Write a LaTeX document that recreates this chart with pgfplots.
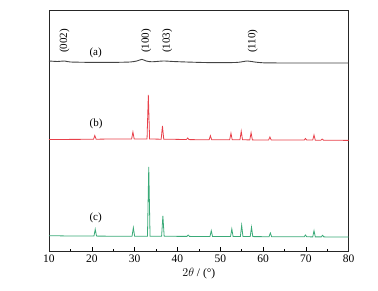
\documentclass[border=0pt]{standalone}
\usepackage{pgfplots}
\pgfplotsset{compat=1.18}
\usepackage{fontspec}
\setmainfont{Liberation Serif}
\definecolor{cA}{HTML}{444444}
\definecolor{cB}{HTML}{E8404A}
\definecolor{cC}{HTML}{3AAA78}
\begin{document}
\begin{tikzpicture}
\path[use as bounding box] (-49pt,-40pt) rectangle (329pt,251pt);
\begin{axis}[
  scale only axis, width=299.7pt, height=240.3pt,
  xmin=10, xmax=80, ymin=0, ymax=240.3,
  xtick={10,20,...,80}, minor xtick={15,25,...,75},
  ytick=\empty, xtick pos=bottom, tick align=inside,
  major tick length=4pt, minor tick length=2pt,
  axis line style={line width=0.8pt, black!85},
  tick style={line width=0.6pt, black},
  tick label style={font=\fontsize{11.5}{13}\selectfont},
  /pgf/number format/assume math mode=true,
  xlabel={$2\theta$ / (°)}, xlabel style={font=\fontsize{11.5}{13}\selectfont, yshift=1pt},
  clip=false,
]
% (a)
\addplot[cA, line width=0.9pt, smooth, tension=0.4] coordinates {
(10,190) (12,189.5) (13.6,190) (15,189) (20,188.6) (25,188.6) (29,189) (30.5,190) (31.7,191.6) (32.7,190) (34,189.2) (36.7,190) (39,189.5) (42,189) (46,188.5) (50,188.3) (54,188.6) (56.3,190) (58,189) (60,188.2) (65,188) (70,188) (75,188) (80,188)
};
% (b)
\addplot[cB, line width=0.8pt] coordinates {
(10,111.5) (15,111.6) (20.4,111.7) (20.7,115.5) (21.0,111.8) (25,112) (29.3,112) (29.6,119) (29.9,112) (32.9,112) (33.2,156) (33.5,112) (36.2,111.8) (36.5,125) (36.8,111.8) (42.1,111.5) (42.4,113) (42.7,111.4) (47.4,111.2) (47.7,115.3) (48.0,111.2) (52.2,111.2) (52.5,117.7) (52.8,111.2) (54.6,111.2) (54.9,119.7) (55.2,111.2) (56.9,111.1) (57.2,118.3) (57.5,111.1) (61.3,111) (61.6,114) (61.9,111) (65,110.9) (69.6,110.9) (69.9,112.5) (70.2,110.9) (71.6,110.9) (71.9,116) (72.2,110.8) (73.5,110.8) (73.8,112) (74.1,110.8) (80,110.6)
};
% (c)
\addplot[cC, line width=0.8pt] coordinates {
(10,15.3) (15,15) (20.5,14.9) (20.8,21.7) (21.1,14.9) (25,14.8) (29.4,14.8) (29.7,23.3) (30.0,14.8) (33.0,14.8) (33.3,84) (33.6,14.8) (36.3,14.7) (36.6,35) (36.9,14.7) (42.2,14.6) (42.5,16) (42.8,14.6) (47.6,14.5) (47.9,20.3) (48.2,14.5) (52.4,14.4) (52.7,22) (53.0,14.4) (54.7,14.4) (55.0,25.7) (55.3,14.4) (57.0,14.4) (57.3,23.7) (57.6,14.4) (61.4,14.3) (61.7,18) (62.0,14.3) (66,14.2) (69.6,14.2) (69.9,16) (70.2,14.2) (71.6,14.1) (71.9,20.3) (72.2,14.1) (73.6,14.1) (73.9,15.7) (74.2,14.1) (80,14)
};
\begin{scope}[font=\fontsize{11}{13}\selectfont]
\node[rotate=90, anchor=west, inner sep=0pt] at (axis cs:13.6,198) {(002)};
\node[rotate=90, anchor=west, inner sep=0pt] at (axis cs:32.7,198) {(100)};
\node[rotate=90, anchor=west, inner sep=0pt] at (axis cs:37.6,198) {(103)};
\node[rotate=90, anchor=west, inner sep=0pt] at (axis cs:57.6,198) {(110)};
\node at (axis cs:20.9,197.7) {(a)};
\node at (axis cs:21.0,126.7) {(b)};
\node at (axis cs:20.9,32.7) {(c)};
\end{scope}
\end{axis}
\end{tikzpicture}
\end{document}
